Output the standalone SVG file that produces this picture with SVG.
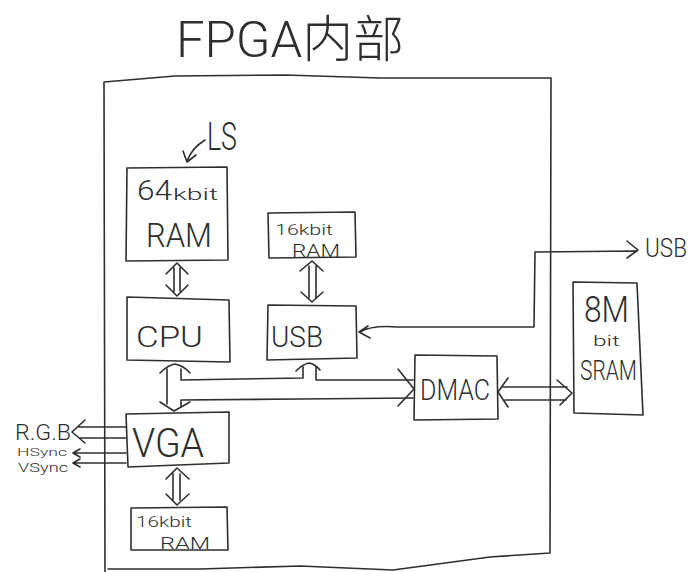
<svg xmlns="http://www.w3.org/2000/svg" width="692" height="572" viewBox="0 0 692 572">
<style>
.ln{fill:none;stroke:#2e2e2e;stroke-width:1.6;stroke-linecap:round;stroke-linejoin:round}
.bx{fill:#fff;stroke:#2e2e2e;stroke-width:1.6;stroke-linejoin:round}
.t{font-family:Roboto,"Liberation Sans","DejaVu Sans",sans-serif;font-weight:300;fill:#2e2e2e}
.cj{font-family:Roboto,"Noto Sans CJK SC",sans-serif;fill:#2e2e2e;font-weight:300}
</style>
<rect width="692" height="572" fill="#fff"/>
<g id="title"><text class="cj" x="176" y="57" font-size="50" textLength="228" lengthAdjust="spacingAndGlyphs">FPGA内部</text></g>
<g id="fpga-frame"><path class="ln" d="M105,572 L104,82 L175,76 L285,75 L380,78 L551,78 L550,553 L490,557 L393,570 L300,566 L200,569 L108,569"/></g>
<g id="connectors">
<path class="ln" d="M205,140 Q192,148 187,161 M183,151 L187,162 L196,155"/>
<path class="ln" d="M166,274 L177,263 L188,274 M174,268 V291 M180,268 V291 M166,285 L177,296 L188,285"/>
<path class="ln" d="M300,271 L312,261 L323,271 M309,266 V298 M316,266 V298 M301,292 L312,302 L323,292"/>
<path class="ln" d="M166,479 L177,468 L189,479 M173,474 V500 M180,474 V500 M166,494 L177,505 L189,494"/>
<path class="ln" d="M160,373 Q168,365 175,364 Q184,366 190,373"/>
<path class="ln" d="M167,369 L167,404 M181,369 L181,380 L303,378 L303,367 M316,367 L316,380 L413,380"/>
<path class="ln" d="M296,371 Q303,364 309,363 Q315,364 320,370"/>
<path class="ln" d="M181,406 L181,400 L300,399 L413,398"/>
<path class="ln" d="M160,402 L174,411 L190,402"/>
<path class="ln" d="M398,369 L414,389 L398,406"/>
<path class="ln" d="M503,387 L567,387 M505,400 L566,400 M508,378 L498,392 L508,407 M557,380 L572,393 L560,405"/>
<path class="ln" d="M360,332 Q372,325 397,327 L534,327 L535,252 L636,251 M627,241 L638,250 L627,258 M368,326 L359,332 L370,338"/>
<path class="ln" d="M126,427 L79,427 M126,438 L79,438 M85,420 L72,432 L85,443"/>
<path class="ln" d="M126,453 L74,453 M80,449 L73,453 L80,457"/>
<path class="ln" d="M126,463 L74,463 M80,459 L73,463 L80,467"/>
</g>
<g id="ls"><text class="t" x="207" y="150" font-size="38" textLength="30" lengthAdjust="spacingAndGlyphs">LS</text></g>
<g id="ram64">
<path class="bx" d="M127,168 L227,167 L228,260 L126,261 Z"/>
<text class="t" x="137" y="200" font-size="28" textLength="35" lengthAdjust="spacingAndGlyphs">64</text>
<text class="t" x="173" y="200" font-size="17" textLength="45" lengthAdjust="spacingAndGlyphs">kbit</text>
<text class="t" x="146" y="247" font-size="33" textLength="66" lengthAdjust="spacingAndGlyphs">RAM</text>
</g>
<g id="ram16-usb">
<path class="bx" d="M268,213 L355,212 L356,257 L269,258 Z"/>
<text class="t" x="275" y="235" font-size="15" textLength="58" lengthAdjust="spacingAndGlyphs">16kbit</text>
<text class="t" x="292" y="257" font-size="18" textLength="48" lengthAdjust="spacingAndGlyphs">RAM</text>
</g>
<g id="cpu">
<path class="bx" d="M127,297 L229,300 L230,362 L127,360 Z"/>
<text class="t" x="136" y="347" font-size="30" textLength="67" lengthAdjust="spacingAndGlyphs">CPU</text>
</g>
<g id="usb">
<path class="bx" d="M268,305 L356,306 L357,358 L267,360 Z"/>
<text class="t" x="271" y="347" font-size="30" textLength="52" lengthAdjust="spacingAndGlyphs">USB</text>
</g>
<g id="vga">
<path class="bx" d="M126,414 L229,412 L229,463 L128,467 Z"/>
<text class="t" x="132" y="457" font-size="40" textLength="72" lengthAdjust="spacingAndGlyphs">VGA</text>
</g>
<g id="ram16-vga">
<path class="bx" d="M131,508 L227,507 L228,550 L131,550 Z"/>
<text class="t" x="136" y="527" font-size="15" textLength="56" lengthAdjust="spacingAndGlyphs">16kbit</text>
<text class="t" x="160" y="549" font-size="17" textLength="50" lengthAdjust="spacingAndGlyphs">RAM</text>
</g>
<g id="dmac">
<path class="bx" d="M415,355 L497,356 L498,419 L414,420 Z"/>
<text class="t" x="420" y="400" font-size="30" textLength="70" lengthAdjust="spacingAndGlyphs">DMAC</text>
</g>
<g id="sram">
<path class="bx" d="M573,282 L637,283 L643,415 L574,413 Z"/>
<text class="t" x="584" y="322" font-size="37" textLength="45" lengthAdjust="spacingAndGlyphs">8M</text>
<text class="t" x="593" y="346" font-size="14" textLength="27" lengthAdjust="spacingAndGlyphs">bit</text>
<text class="t" x="580" y="380" font-size="27" textLength="57" lengthAdjust="spacingAndGlyphs">SRAM</text>
</g>
<g id="labels">
<text class="t" x="645" y="257" font-size="26" textLength="42" lengthAdjust="spacingAndGlyphs">USB</text>
<text class="t" x="15" y="440" font-size="22" textLength="56" lengthAdjust="spacingAndGlyphs">R.G.B</text>
<text class="t" x="17" y="456" font-size="10" textLength="50" lengthAdjust="spacingAndGlyphs">HSync</text>
<text class="t" x="18" y="472" font-size="13" textLength="50" lengthAdjust="spacingAndGlyphs">VSync</text>
</g>
</svg>
